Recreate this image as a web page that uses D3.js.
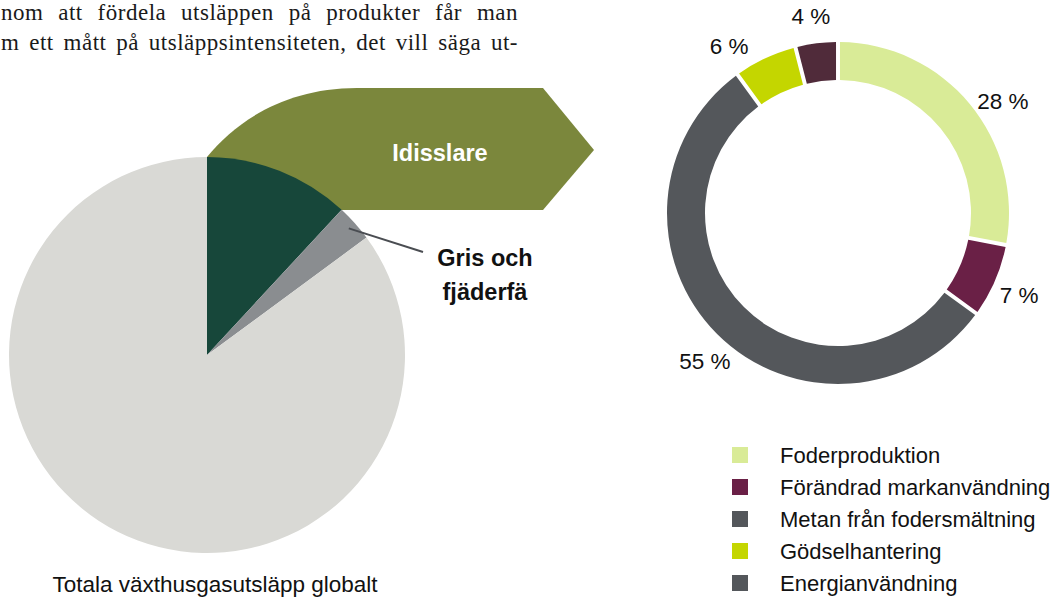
<!DOCTYPE html>
<html>
<head>
<meta charset="utf-8">
<script src="https://cdn.jsdelivr.net/npm/d3@7"></script>
<style>
  body { margin: 0; background: #fff; }
  svg { display: block; }
</style>
</head>
<body>
<svg id="chart" width="1056" height="599"></svg>
<script>
// global emissions pie (share of total, %)
const pieNames = ["Idisslare", "Gris och fjäderfä", "Övrigt"];
const pieValues = [11.9, 3.0, 85.1];
const pieColors = ["#17473a", "#8a8d90", "#d9d9d5"];

// livestock breakdown donut (%)
const donutNames = ["Foderproduktion", "Förändrad markanvändning", "Metan från fodersmältning", "Gödselhantering", "Energianvändning"];
const donutValues = [28, 7, 55, 6, 4];
const donutColors = ["#d9eb97", "#6a2046", "#54575b", "#c4d600", "#502b3a"];
const legendColors = ["#d9eb97", "#6a2046", "#54575b", "#c4d600", "#54575b"];

const bodyLines = [
    "nom att fördela utsläppen på produkter får man",
    "m ett mått på utsläppsintensiteten, det vill säga ut-"
];

const svg = d3.select('#chart');
const sans = "'Liberation Sans', Arial, sans-serif";

// running text at top, justified word by word
bodyLines.forEach((line, i) => {
    const words = line.split(' ');
    const g = svg.append('g');
    const nodes = words.map(w => g.append('text')
        .attr('y', 20 + i * 30)
        .attr('font-family', "'Liberation Serif', 'DejaVu Serif', serif")
        .attr('font-size', 23)
        .attr('letter-spacing', 0.5)
        .attr('fill', '#1a1a1a')
        .text(w));
    const widths = nodes.map(n => n.node().getComputedTextLength());
    const total = d3.sum(widths);
    const left = 1, right = 518;
    const gap = (right - left - total) / (words.length - 1);
    let x = left;
    nodes.forEach((n, j) => {
        n.attr('x', x);
        x += widths[j] + gap;
    });
});

// big pie
const pieCx = 207, pieCy = 355, pieR = 198;

// olive arrow behind the pie
svg.append('path')
    .attr('d', `M${pieCx},${pieCy - pieR} C${pieCx + 30},120 ${pieCx + 80},88 ${pieCx + 150},88 L543,88 L594,150 L543,210 L${pieCx},210 Z`)
    .attr('fill', '#7b873c');

const pie = d3.pie().sort(null).value(d => d);
const pieArc = d3.arc().innerRadius(0).outerRadius(pieR);

svg.append('g')
    .attr('transform', `translate(${pieCx},${pieCy})`)
    .selectAll('path')
    .data(pie(pieValues))
    .join('path')
    .attr('d', pieArc)
    .attr('fill', (d, i) => pieColors[i]);

svg.append('text')
    .attr('x', 440).attr('y', 161)
    .attr('text-anchor', 'middle')
    .attr('font-family', sans).attr('font-weight', 'bold').attr('font-size', 23.5)
    .attr('fill', '#fff')
    .text(pieNames[0]);

// leader for pig & poultry
const gris = pie(pieValues)[1];
const ga = (gris.startAngle + gris.endAngle) / 2;
const lr = pieR * 0.96;
svg.append('line')
    .attr('x1', pieCx + lr * Math.sin(ga)).attr('y1', pieCy - lr * Math.cos(ga))
    .attr('x2', 423).attr('y2', 252)
    .attr('stroke', '#4a4d52').attr('stroke-width', 2);

const grisText = svg.append('text')
    .attr('text-anchor', 'middle')
    .attr('font-family', sans).attr('font-weight', 'bold').attr('font-size', 23.5)
    .attr('fill', '#111');
grisText.append('tspan').attr('x', 485).attr('y', 266).text("Gris och");
grisText.append('tspan').attr('x', 485).attr('y', 300).text("fjäderfä");

svg.append('text')
    .attr('x', 215).attr('y', 592)
    .attr('text-anchor', 'middle')
    .attr('font-family', sans).attr('font-size', 22.5)
    .attr('fill', '#111')
    .text("Totala växthusgasutsläpp globalt");

// donut
const dCx = 838, dCy = 213, dOuter = 171, dInner = 133;
const donutArc = d3.arc().innerRadius(dInner).outerRadius(dOuter)
    .padAngle(0.026).padRadius(152);
const donutData = pie(donutValues);

const dg = svg.append('g').attr('transform', `translate(${dCx},${dCy})`);
dg.selectAll('path')
    .data(donutData)
    .join('path')
    .attr('d', donutArc)
    .attr('fill', (d, i) => donutColors[i]);

// label placement: radius and small hand nudges of the angle (degrees)
const labelR = 199;
const labelTurn = [5.5, 1, -3, -8, -0.6];
dg.selectAll('text')
    .data(donutData)
    .join('text')
    .each(function (d, i) {
        const a = (d.startAngle + d.endAngle) / 2 + labelTurn[i] * Math.PI / 180;
        d3.select(this)
            .attr('x', labelR * Math.sin(a))
            .attr('y', -labelR * Math.cos(a));
    })
    .attr('text-anchor', 'middle')
    .attr('dy', '0.35em')
    .attr('font-family', sans).attr('font-size', 22.5)
    .attr('fill', '#111')
    .text(d => `${d.data} %`);

// legend
const legend = svg.append('g').attr('transform', 'translate(732,447)');
const rows = legend.selectAll('g')
    .data(donutNames)
    .join('g')
    .attr('transform', (d, i) => `translate(0,${i * 32})`);
rows.append('rect')
    .attr('width', 16).attr('height', 16)
    .attr('fill', (d, i) => legendColors[i]);
rows.append('text')
    .attr('x', 48).attr('y', 16)
    .attr('font-family', sans).attr('font-size', 22)
    .attr('fill', '#111')
    .text(d => d);
</script>
</body>
</html>
